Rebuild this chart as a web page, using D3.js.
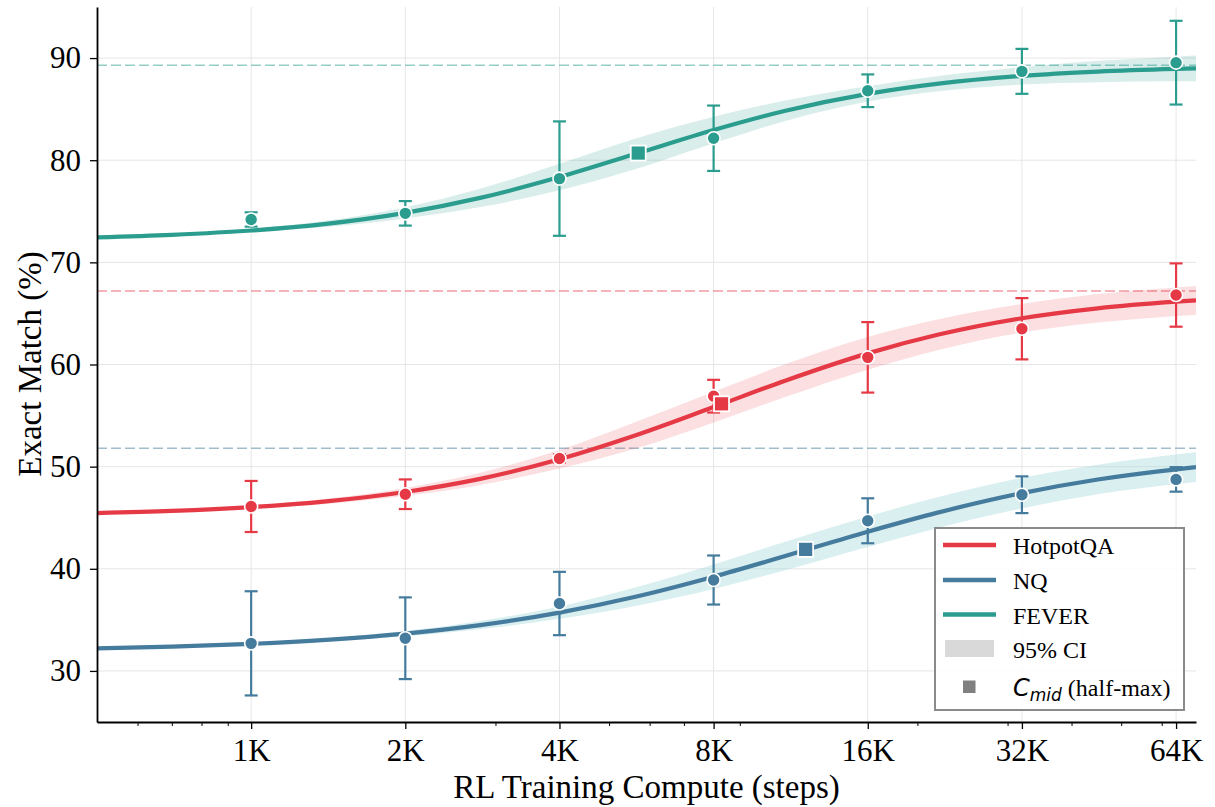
<!DOCTYPE html>
<html><head><meta charset="utf-8">
<script src="https://cdn.jsdelivr.net/npm/d3@7"></script>
<style>
html,body{margin:0;padding:0;background:#fff;}
svg{display:block;}
</style></head>
<body>
<svg id="chart" width="1215" height="807"></svg>
<script>
// ---------- data ----------
const seriesNames = ["HotpotQA", "NQ", "FEVER"];
const seriesColors = ["#E63946", "#457B9D", "#2A9D8F"];
const bandColors = ["#E63946", "#A8DADC", "#2A9D8F"];
const bandOpacity = [0.16, 0.42, 0.18];

const steps = [1000, 2000, 4000, 8000, 16000, 32000, 64000];
const tickLabels = ["1K", "2K", "4K", "8K", "16K", "32K", "64K"];
const minorTicks = [600, 700, 800, 900, 3000, 5000, 6000, 7000, 9000, 20000, 30000, 40000, 50000, 60000];
const yTicks = [30, 40, 50, 60, 70, 80, 90];

const hotpotMean = [46.1, 47.3, 50.8, 56.9, 60.7, 63.5, 66.8];
const hotpotErr  = [2.5, 1.45, 0.4, 1.6, 3.45, 3.0, 3.1];
const nqMean     = [32.7, 33.2, 36.6, 38.9, 44.7, 47.25, 48.75];
const nqErr      = [5.1, 4.0, 3.1, 2.4, 2.2, 1.8, 1.2];
const feverMean  = [74.2, 74.8, 78.2, 82.15, 86.8, 88.7, 89.55];
const feverErr   = [0.7, 1.2, 5.6, 3.2, 1.6, 2.2, 4.1];

const fitSteps  = [500, 700, 1000, 1400, 2000, 2800, 4000, 5600, 8000, 11000, 16000, 22000, 32000, 45000, 64000, 70000];
const hotpotFit = [45.45, 45.66, 46.04, 46.60, 47.52, 48.80, 50.72, 53.02, 55.83, 58.39, 61.09, 62.93, 64.53, 65.50, 66.15, 66.28];
const hotpotCI  = [0.1, 0.1, 0.15, 0.25, 0.4, 0.6, 0.9, 1.3, 1.5, 1.6, 1.6, 1.5, 1.4, 1.4, 1.4, 1.4];
const nqFit     = [32.21, 32.38, 32.65, 33.04, 33.65, 34.48, 35.71, 37.24, 39.23, 41.23, 43.63, 45.52, 47.41, 48.74, 49.74, 49.95];
const nqCI      = [0.05, 0.08, 0.1, 0.15, 0.25, 0.4, 0.6, 0.9, 1.2, 1.4, 1.5, 1.5, 1.5, 1.45, 1.45, 1.45];
const feverFit  = [72.45, 72.70, 73.12, 73.77, 74.85, 76.31, 78.35, 80.58, 82.96, 84.82, 86.50, 87.50, 88.26, 88.68, 88.94, 88.99];
const feverCI   = [0.1, 0.12, 0.15, 0.3, 0.55, 0.9, 1.3, 1.5, 1.3, 1.0, 0.75, 0.75, 0.85, 1.05, 1.2, 1.25];

const midSteps  = [8290, 12100, 5700];
const midValues = [56.15, 41.9, 80.7];
const asymptotes = [67.2, 51.8, 89.3];

// ---------- layout ----------
const svg = d3.select("#chart");
const L = 97, R = 1196, T = 7, B = 722;
const x = d3.scaleLog().domain([500, 70000]).range([L, R]);
const y = d3.scaleLinear().domain([25, 95]).range([B, T]);
const serif = "'Liberation Serif','Times New Roman',Times,serif";

const means = [hotpotMean, nqMean, feverMean];
const errs = [hotpotErr, nqErr, feverErr];
const fits = [hotpotFit, nqFit, feverFit];
const cis = [hotpotCI, nqCI, feverCI];

// grid
const grid = svg.append("g");
grid.selectAll("line.gx").data(steps).join("line")
  .attr("x1", d => x(d)).attr("x2", d => x(d)).attr("y1", T).attr("y2", B)
  .attr("stroke", "#e6e6e6").attr("stroke-width", 1);
grid.selectAll("line.gy").data(yTicks).join("line")
  .attr("x1", L).attr("x2", R).attr("y1", d => y(d)).attr("y2", d => y(d))
  .attr("stroke", "#e6e6e6").attr("stroke-width", 1);

// asymptote dashed lines
svg.append("g").selectAll("line").data(asymptotes).join("line")
  .attr("x1", L).attr("x2", R).attr("y1", d => y(d)).attr("y2", d => y(d))
  .attr("stroke", (d, i) => seriesColors[i]).attr("stroke-opacity", 0.5)
  .attr("stroke-width", 1.5).attr("stroke-dasharray", "10,4");

// bands
const area = d3.area().curve(d3.curveMonotoneX)
  .x(d => x(d.s)).y0(d => y(d.v - d.c)).y1(d => y(d.v + d.c));
const line = d3.line().curve(d3.curveMonotoneX).x(d => x(d.s)).y(d => y(d.v));
svg.append("clipPath").attr("id", "clip").append("rect")
  .attr("x", L).attr("y", T).attr("width", R - L).attr("height", B - T);

const plot = svg.append("g").attr("clip-path", "url(#clip)");
seriesNames.forEach((n, i) => {
  const pts = fitSteps.map((s, j) => ({ s, v: fits[i][j], c: cis[i][j] }));
  plot.append("path").datum(pts).attr("d", area)
    .attr("fill", bandColors[i]).attr("fill-opacity", bandOpacity[i]);
});
seriesNames.forEach((n, i) => {
  const pts = fitSteps.map((s, j) => ({ s, v: fits[i][j] }));
  plot.append("path").datum(pts).attr("d", line)
    .attr("fill", "none").attr("stroke", seriesColors[i]).attr("stroke-width", 4.2);
});

// error bars and points
seriesNames.forEach((n, i) => {
  const g = svg.append("g");
  const data = steps.map((s, j) => ({ s, m: means[i][j], e: errs[i][j] }));
  const eb = g.selectAll("g.eb").data(data).join("g")
    .attr("stroke", seriesColors[i]).attr("stroke-width", 2.2);
  eb.append("line").attr("x1", d => x(d.s)).attr("x2", d => x(d.s))
    .attr("y1", d => y(d.m - d.e)).attr("y2", d => y(d.m + d.e));
  eb.append("line").attr("x1", d => x(d.s) - 6.5).attr("x2", d => x(d.s) + 6.5)
    .attr("y1", d => y(d.m - d.e)).attr("y2", d => y(d.m - d.e));
  eb.append("line").attr("x1", d => x(d.s) - 6.5).attr("x2", d => x(d.s) + 6.5)
    .attr("y1", d => y(d.m + d.e)).attr("y2", d => y(d.m + d.e));
  g.selectAll("circle").data(data).join("circle")
    .attr("cx", d => x(d.s)).attr("cy", d => y(d.m)).attr("r", 6.5)
    .attr("fill", seriesColors[i]).attr("stroke", "#fff").attr("stroke-width", 1.6);
});

// C_mid squares
seriesNames.forEach((n, i) => {
  svg.append("rect")
    .attr("x", x(midSteps[i]) - 7.5).attr("y", y(midValues[i]) - 7.5)
    .attr("width", 15).attr("height", 15)
    .attr("fill", seriesColors[i]).attr("stroke", "#fff").attr("stroke-width", 1.8);
});

// axes
const xAxis = svg.append("g").attr("transform", `translate(0,${B})`)
  .call(d3.axisBottom(x).tickValues(steps).tickFormat((d, i) => tickLabels[i]).tickSize(7).tickSizeOuter(0).tickPadding(10));
const xMinor = svg.append("g").attr("transform", `translate(0,${B})`)
  .call(d3.axisBottom(x).tickValues(minorTicks).tickFormat("").tickSize(4).tickSizeOuter(0));
xMinor.select(".domain").remove();
const yAxis = svg.append("g").attr("transform", `translate(${L},0)`)
  .call(d3.axisLeft(y).tickValues(yTicks).tickSize(7).tickSizeOuter(0).tickPadding(9));

[xAxis, yAxis].forEach(a => {
  a.select(".domain").attr("stroke", "#000").attr("stroke-width", 1.8);
  a.selectAll(".tick line").attr("stroke", "#000").attr("stroke-width", 1.3);
  a.selectAll(".tick text").attr("font-family", serif).attr("font-size", 31).attr("fill", "#000");
});
xMinor.selectAll(".tick line").attr("stroke", "#000").attr("stroke-width", 1);

svg.append("text").attr("x", (L + R) / 2).attr("y", 798).attr("text-anchor", "middle")
  .attr("font-family", serif).attr("font-size", 33).text("RL Training Compute (steps)");
svg.append("text").attr("transform", "translate(41,364) rotate(-90)").attr("text-anchor", "middle")
  .attr("font-family", serif).attr("font-size", 33).text("Exact Match (%)");

// legend
const lg = svg.append("g");
lg.append("rect").attr("x", 935).attr("y", 528).attr("width", 249).attr("height", 182)
  .attr("fill", "#fff").attr("fill-opacity", 0.85).attr("stroke", "#8a8a8a").attr("stroke-width", 2);
const rowY = [545, 580, 614.5, 648.5, 686.5];
seriesNames.forEach((n, i) => {
  lg.append("line").attr("x1", 943).attr("x2", 996).attr("y1", rowY[i]).attr("y2", rowY[i])
    .attr("stroke", seriesColors[i]).attr("stroke-width", 4.5);
  lg.append("text").attr("x", 1013).attr("y", rowY[i] + 9).attr("font-family", serif)
    .attr("font-size", 24).text(n);
});
lg.append("rect").attr("x", 945).attr("y", 640).attr("width", 49).attr("height", 17).attr("fill", "#d9d9d9");
lg.append("text").attr("x", 1013).attr("y", rowY[3] + 9).attr("font-family", serif).attr("font-size", 24).text("95% CI");
lg.append("rect").attr("x", 963).attr("y", 680.5).attr("width", 12.5).attr("height", 12.5).attr("fill", "#808080");
const ct = lg.append("text").attr("x", 1013).attr("y", rowY[4] + 9).attr("font-size", 24);
ct.append("tspan").attr("font-family", "'DejaVu Sans',sans-serif").attr("font-style", "italic").text("C");
ct.append("tspan").attr("font-family", "'DejaVu Sans',sans-serif").attr("font-style", "italic")
  .attr("font-size", 17).attr("dy", 5).text("mid");
ct.append("tspan").attr("font-family", serif).attr("dy", -5).text(" (half-max)");
</script>
</body></html>
